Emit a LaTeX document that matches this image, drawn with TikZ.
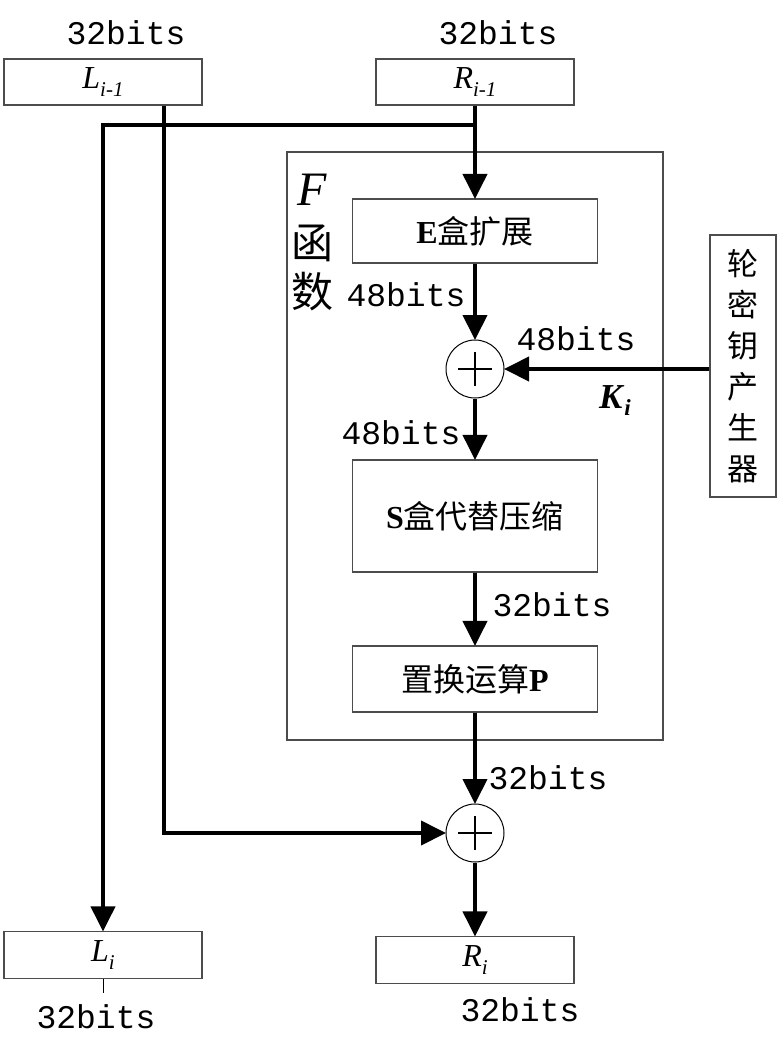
\documentclass[tikz,border=0pt]{standalone}
\usepackage{fontspec}
\setmainfont{Liberation Serif}
\newfontfamily\cjk{Noto Sans CJK SC}
\newfontfamily\monof{Liberation Mono}
\usetikzlibrary{arrows.meta,calc}
\newcommand{\sbx}[1]{\raisebox{-0.22em}{\fontsize{21}{21}\selectfont #1}}
\begin{document}
\begin{tikzpicture}[x=1pt,y=-1pt,
  box/.style={draw=black!70, line width=1.1pt, inner sep=0pt},
  bits/.style={font=\monof\fontsize{33}{36}\selectfont, inner sep=0pt},
  lbl/.style={font=\fontsize{32}{36}\selectfont, inner sep=0pt},
  xorn/.style={draw=black, line width=1pt, circle, minimum size=58pt, inner sep=0pt},
  arr/.style={line width=4pt, -{Triangle[length=25pt,width=24pt]}, shorten >=-0.5pt}
]
\useasboundingbox (0,0) rectangle (783,1053);

% top registers
\node[box, minimum width=198pt, minimum height=46pt, lbl] (Li1) at (103,82) {\textit{L}\sbx{\textit{i-1}}};
\node[box, minimum width=198pt, minimum height=46pt, lbl] (Ri1) at (475,82) {\textit{R}\sbx{\textit{i-1}}};
\node[bits] (t1) at (126,33) {32bits};
\node[bits] (t2) at (498,33) {32bits};

% F function frame
\node[draw=black!70, line width=1.1pt, minimum width=376pt, minimum height=588pt, inner sep=0pt] (F) at (475,446) {};
\node[font=\fontsize{48}{50}\selectfont, inner sep=0pt] (Ft) at (312,190) {\textit{F}};
\node[font=\cjk\fontsize{42}{44}\selectfont, inner sep=0pt] (Fh) at (312,243) {函};
\node[font=\cjk\fontsize{42}{44}\selectfont, inner sep=0pt] (Fs) at (312,292) {数};

% inner boxes
\node[box, minimum width=245pt, minimum height=64pt, font=\fontsize{32}{36}\selectfont, inner sep=0pt] (E) at (475,231) {\textbf{E}{\cjk 盒扩展}};
\node[xorn] (X1) at (475,369) {};
\node[box, minimum width=245pt, minimum height=112pt, font=\fontsize{32}{36}\selectfont, inner sep=0pt] (S) at (475,516) {\textbf{S}{\cjk 盒代替压缩}};
\node[box, minimum width=245pt, minimum height=66pt, font=\fontsize{32}{36}\selectfont, inner sep=0pt] (P) at (475,679) {{\cjk 置换运算}\textbf{P}};

% key generator
\node[box, minimum width=66pt, minimum height=262pt, align=center, font=\cjk\fontsize{31}{41}\selectfont] (K) at (743,366) {轮\\密\\钥\\产\\生\\器};

% second xor
\node[xorn] (X2) at (475,833) {};

% outputs
\node[box, minimum width=198pt, minimum height=47pt, lbl] (Li) at (103,955) {\textit{L}\sbx{\textit{i}}};
\node[box, minimum width=198pt, minimum height=47pt, lbl] (Ri) at (475,960) {\textit{R}\sbx{\textit{i}}};
\node[bits] (b1) at (96,1017) {32bits};
\node[bits] (b2) at (520,1010) {32bits};

% plus signs
\foreach \n in {X1,X2}{
  \draw[line width=1.8pt] ($(\n.center)+(-17,0)$) -- ($(\n.center)+(17,0)$);
  \draw[line width=1.8pt] ($(\n.center)+(0,-17)$) -- ($(\n.center)+(0,17)$);
}

% labels
\node[bits] (l48a) at (406,295) {48bits};
\node[bits] (l48b) at (576,339) {48bits};
\node[font=\fontsize{35}{38}\selectfont, inner sep=0pt] (Ki) at (615,401) {\textbf{\textit{K}}\raisebox{-0.2em}{\fontsize{23}{23}\selectfont\textbf{\textit{i}}}};
\node[bits] (l48c) at (401,433) {48bits};
\node[bits] (l32a) at (552,605) {32bits};
\node[bits] (l32b) at (548,778) {32bits};

% connectors
\coordinate (br) at (475,125);
\coordinate (lx) at (164,833);
\draw[arr] (Ri1.south) -- (E.north);
\draw[arr] (br) -| (Li.north);
\draw[arr] (Li1.south -| lx) |- (X2.west);
\draw[arr] (E.south) -- (X1.north);
\draw[arr] (K.west |- X1.east) -- (X1.east);
\draw[arr] (X1.south) -- (S.north);
\draw[arr] (S.south) -- (P.north);
\draw[arr] (P.south) -- (X2.north);
\draw[arr] (X2.south) -- (Ri.north);
\draw[line width=0.8pt] (Li.south) -- ++(0,14);
\end{tikzpicture}
\end{document}
